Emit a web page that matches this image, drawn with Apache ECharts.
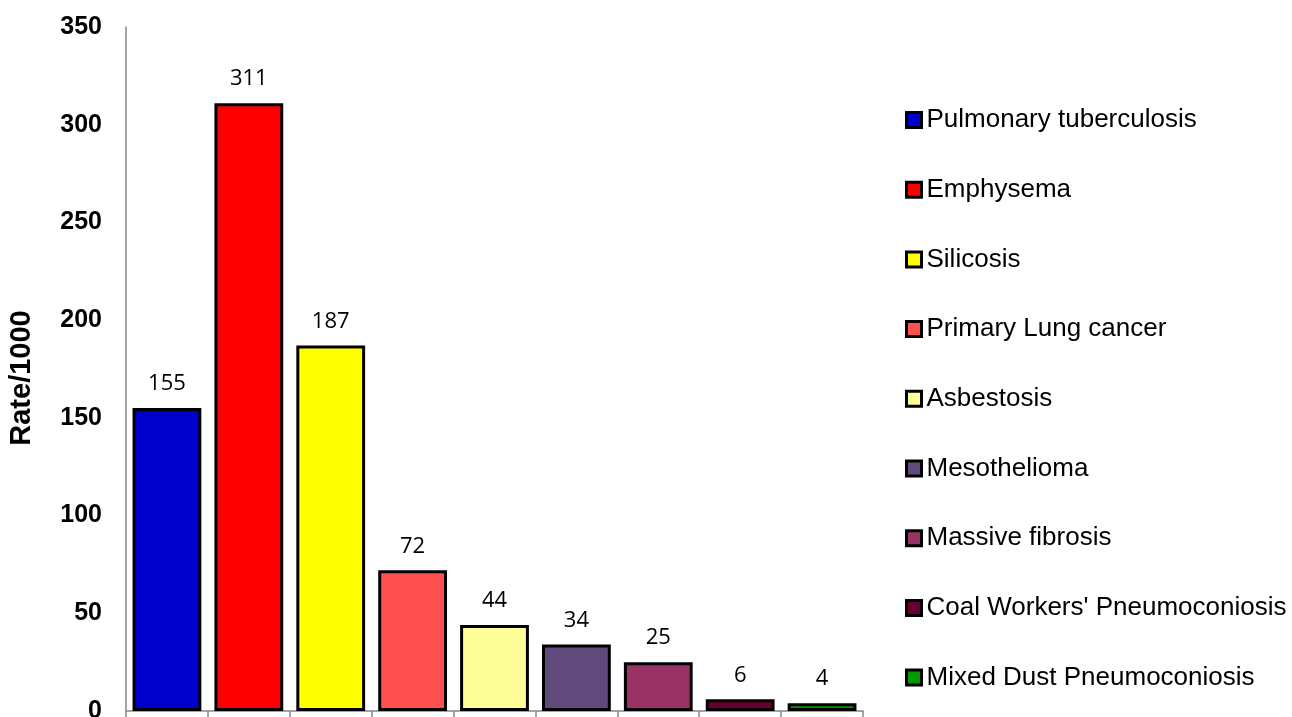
<!DOCTYPE html>
<html>
<head>
<meta charset="utf-8">
<script src="https://cdn.jsdelivr.net/npm/echarts@6/dist/echarts.min.js"></script>
<style>
  html, body { margin: 0; padding: 0; background: #ffffff; }
  #chart { width: 1292px; height: 717px; }
</style>
</head>
<body>
<div id="chart"></div>
<script>
// Disease categories and their rates per 1000
const categories = [
  'Pulmonary tuberculosis',
  'Emphysema',
  'Silicosis',
  'Primary Lung cancer',
  'Asbestosis',
  'Mesothelioma',
  'Massive fibrosis',
  "Coal Workers' Pneumoconiosis",
  'Mixed Dust Pneumoconiosis'
];
const rates = [155, 311, 187, 72, 44, 34, 25, 6, 4];
const colors = ['#0000CC', '#FF0000', '#FFFF00', '#FF5050', '#FFFF99', '#604A7B', '#993366', '#660033', '#009900'];
const yTicks = [0, 50, 100, 150, 200, 250, 300, 350];

// One series per disease so each gets its own legend entry; a shared stack keeps the bars centred
const series = categories.map((name, i) => ({
  name: name,
  type: 'bar',
  stack: 'all',
  barWidth: '84%',
  data: rates.map((v, j) => (j === i ? v : '-')),
  itemStyle: { color: colors[i], borderColor: '#000000', borderWidth: 3 },
  label: {
    show: true,
    position: 'top',
    distance: 13,
    color: '#000000',
    fontFamily: 'Open Sans',
    fontSize: 22
  }
}));

const chart = echarts.init(document.getElementById('chart'), null, { renderer: 'canvas' });
chart.setOption({
  animation: false,
  backgroundColor: '#ffffff',
  grid: { left: 126, right: 429, top: 27, bottom: 6, containLabel: false, outerBoundsMode: 'none' },
  legend: {
    orient: 'vertical',
    left: 900,
    top: 100,
    itemWidth: 15,
    itemHeight: 15,
    itemGap: 39.7,
    icon: 'rect',
    itemStyle: { borderColor: '#000000', borderWidth: 3 },
    textStyle: { fontFamily: 'Liberation Sans, Arial', fontSize: 26, color: '#000000', lineHeight: 30 },
    data: categories
  },
  xAxis: {
    type: 'category',
    data: categories,
    axisLine: { lineStyle: { color: '#868686', width: 1.5 } },
    axisTick: { show: true, interval: 0, length: 6, lineStyle: { color: '#868686', width: 1.5 } },
    axisLabel: { show: false },
    splitLine: { show: false }
  },
  yAxis: {
    type: 'value',
    min: yTicks[0],
    max: yTicks[yTicks.length - 1],
    interval: 50,
    name: 'Rate/1000',
    nameLocation: 'middle',
    nameGap: 90,
    nameTextStyle: {
      fontFamily: 'Liberation Sans, Arial',
      fontWeight: 'bold',
      fontSize: 29,
      color: '#000000',
      padding: [0, 18, 0, 0]
    },
    axisLine: { show: true, lineStyle: { color: '#868686', width: 1.5 } },
    axisTick: { show: false },
    axisLabel: { margin: 24, fontFamily: 'Liberation Sans, Arial', fontWeight: 'bold', fontSize: 25, color: '#000000' },
    splitLine: { show: false }
  },
  series: series
});
</script>
</body>
</html>
